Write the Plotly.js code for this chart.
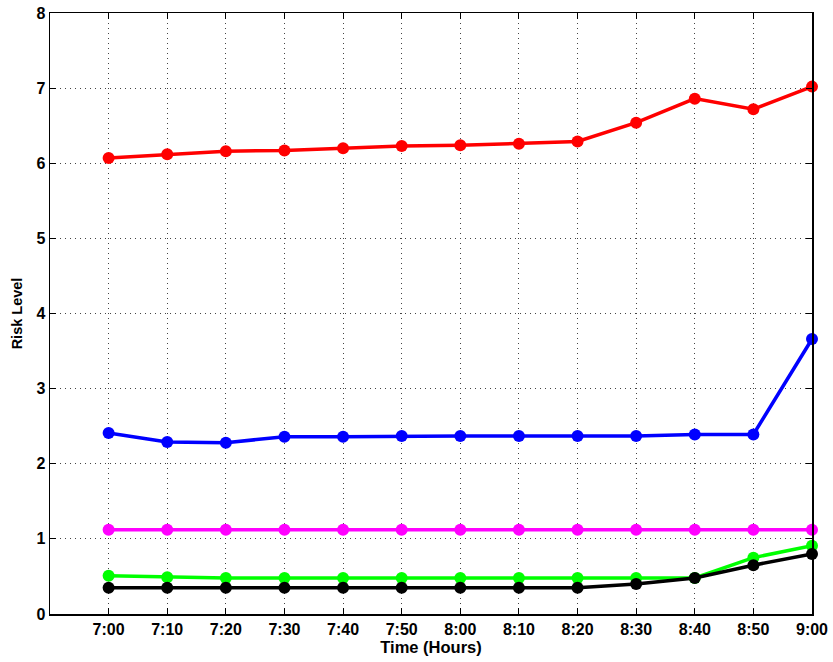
<!DOCTYPE html>
<html>
<head>
<meta charset="utf-8">
<script src="https://cdn.plot.ly/plotly-3.0.1.min.js"></script>
<style>html,body{margin:0;padding:0;background:#fff;}#chart{width:833px;height:662px;}</style>
</head>
<body>
<div id="chart"></div>
<script>
const times = ["7:00","7:10","7:20","7:30","7:40","7:50","8:00","8:10","8:20","8:30","8:40","8:50","9:00"];
const redSeries = [6.07,6.12,6.16,6.17,6.20,6.23,6.24,6.26,6.29,6.54,6.86,6.72,7.02];
const blueSeries = [2.41,2.29,2.28,2.36,2.36,2.37,2.37,2.37,2.37,2.37,2.39,2.39,3.66];
const magentaSeries = [1.12,1.12,1.12,1.12,1.12,1.12,1.12,1.12,1.12,1.12,1.12,1.12,1.12];
const greenSeries = [0.51,0.49,0.48,0.48,0.48,0.48,0.48,0.48,0.48,0.48,0.48,0.75,0.91];
const blackSeries = [0.35,0.35,0.35,0.35,0.35,0.35,0.35,0.35,0.35,0.40,0.48,0.65,0.80];
const yTicks = [0,1,2,3,4,5,6,7,8];

function tr(y, color) {
  return {x: times, y: y, type: 'scatter', mode: 'lines+markers',
    line: {color: color, width: 3.5}, marker: {color: color, size: 12},
    cliponaxis: false, showlegend: false};
}
const data = [
  tr(redSeries, '#ff0000'),
  tr(blueSeries, '#0000ff'),
  tr(magentaSeries, '#ff00ff'),
  tr(greenSeries, '#00ff00'),
  tr(blackSeries, '#000000')
];
const fam = 'Liberation Sans, Arial, sans-serif';
const layout = {
  width: 833, height: 662,
  margin: {l: 50, r: 21, t: 13, b: 48},
  paper_bgcolor: '#fff', plot_bgcolor: '#fff',
  font: {family: fam, size: 16, color: '#000'},
  xaxis: {
    type: 'category', range: [-1, 12],
    tickvals: times, ticktext: times.map(t => '<b>' + t + '</b>'),
    showline: true, linecolor: '#000', linewidth: 1.5, mirror: 'ticks',
    ticks: 'inside', ticklen: 6, tickcolor: '#000', tickwidth: 1,
    showgrid: true, gridcolor: '#444', gridwidth: 1, griddash: '1px,4px',
    zeroline: false,
    tickfont: {family: fam, size: 16, color: '#000'},
    title: {text: '<b>Time (Hours)</b>', font: {family: fam, size: 16.5, color: '#000'}, standoff: 4}
  },
  yaxis: {
    range: [0, 8], tickvals: yTicks, ticktext: yTicks.map(v => '<b>' + v + '</b>'),
    showline: true, linecolor: '#000', linewidth: 1.5, mirror: 'ticks',
    ticks: 'inside', ticklen: 6, tickcolor: '#000', tickwidth: 1,
    showgrid: true, gridcolor: '#444', gridwidth: 1, griddash: '1px,4px',
    zeroline: false,
    tickfont: {family: fam, size: 16, color: '#000'},
    title: {text: '<b>Risk Level</b>', font: {family: fam, size: 14.5, color: '#000'}, standoff: 10}
  }
};
Plotly.newPlot('chart', data, layout, {staticPlot: true});
</script>
</body>
</html>
